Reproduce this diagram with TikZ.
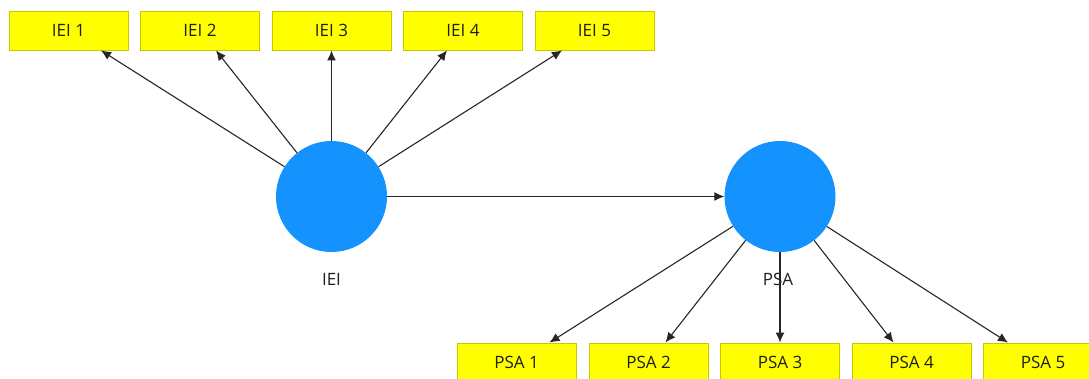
\documentclass[tikz,border=0pt]{standalone}
\usepackage{fontspec}
\setmainfont{Open Sans}
\usetikzlibrary{arrows.meta}
\definecolor{boxfill}{HTML}{FFFF00}
\definecolor{boxline}{HTML}{C8C800}
\definecolor{lvblue}{HTML}{1493FF}
\definecolor{linecol}{HTML}{262626}
\definecolor{textcol}{HTML}{1E1E1E}
\begin{document}
\begin{tikzpicture}[x=1pt,y=-1pt,
  ind/.style={draw=boxline, fill=boxfill, line width=0.9pt, minimum width=119pt, minimum height=39pt, inner sep=0pt, text=textcol, font=\fontsize{17}{20}\selectfont},
  lv/.style={circle, fill=lvblue, minimum size=111pt, inner sep=0pt},
  lvlabel/.style={text=textcol, font=\fontsize{17}{20}\selectfont, inner sep=0pt},
  arr/.style={draw=linecol, line width=1.1pt, -{Latex[length=10pt,width=9pt]}}]
\useasboundingbox (0,0) rectangle (1089,379);
% latent variables
\node[lv] (iei) at (331.5,196.5) {};
\node[lv] (psa) at (780,196.5) {};
\node[lvlabel] (ieil) at (331.5,279) {IEI};
\node[lvlabel] (psal) at (778,279) {PSA};
% IEI indicators
\node[ind] (i1) at (68.5,30.5) {IEI 1};
\node[ind] (i2) at (200,30.5) {IEI 2};
\node[ind] (i3) at (331.5,30.5) {IEI 3};
\node[ind] (i4) at (463,30.5) {IEI 4};
\node[ind] (i5) at (594.5,30.5) {IEI 5};
% PSA indicators
\node[ind] (p1) at (516.5,362.5) {PSA 1};
\node[ind] (p2) at (648.5,362.5) {PSA 2};
\node[ind] (p3) at (780,362.5) {PSA 3};
\node[ind] (p4) at (911.5,362.5) {PSA 4};
\node[ind] (p5) at (1043,362.5) {PSA 5};
% arrows IEI
\draw[arr] (iei) -- ([xshift=32.5pt]i1.south);
\draw[arr] (iei) -- ([xshift=16pt]i2.south);
\draw[arr] (iei) -- (i3.south);
\draw[arr] (iei) -- ([xshift=-16pt]i4.south);
\draw[arr] (iei) -- ([xshift=-32.5pt]i5.south);
% structural
\draw[arr] (iei) -- (psa);
% arrows PSA
\draw[arr] (psa) -- ([xshift=33pt]p1.north);
\draw[arr] (psa) -- ([xshift=17pt]p2.north);
\draw[arr] (psa) -- (p3.north);
\draw[arr] (psa) -- ([xshift=-18pt]p4.north);
\draw[arr] (psa) -- ([xshift=-35pt]p5.north);
\end{tikzpicture}
\end{document}
